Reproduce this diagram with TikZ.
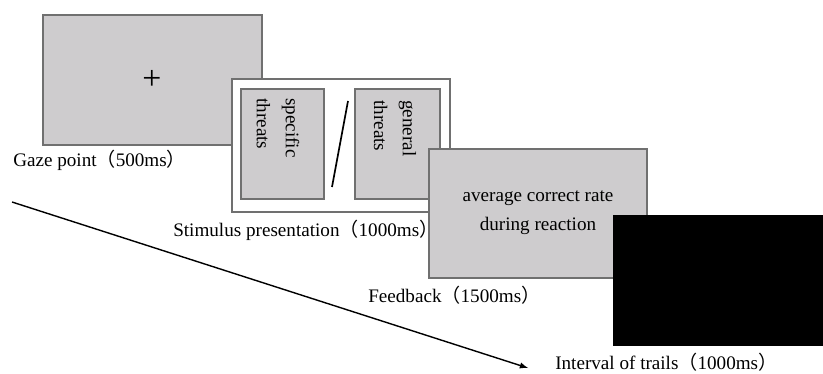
\documentclass[tikz,border=0pt]{standalone}
\usepackage{fontspec}
\setmainfont{Liberation Serif}
\newfontfamily\cjk{Noto Sans CJK SC}
\usetikzlibrary{positioning, arrows}
\definecolor{screengray}{RGB}{206,204,206}
\definecolor{framegray}{RGB}{112,112,112}
\newcommand{\lpar}{{\cjk （}}
\newcommand{\rpar}{{\cjk ）}}

\begin{document}
\begin{tikzpicture}[x=0.025cm, y=-0.025cm, font=\fontsize{13.6}{20.5}\selectfont]
        \useasboundingbox (0,0) rectangle (823,374);

        % fixation screen
        \draw [draw=framegray, fill=screengray, line width=1pt] (43,15) rectangle (262,145);
        \node (cross) at (152,80) {\fontsize{24}{24}\selectfont +};
        \node (gaze) [anchor=west, inner sep=0pt] at (13,160) {Gaze point\lpar500ms\rpar};

        % stimulus screen
        \draw [draw=framegray, fill=white, line width=1pt] (232,79) rectangle (450,212);
        \draw [draw=framegray, fill=screengray, line width=1pt] (241,89) rectangle (324,199);
        \draw [draw=framegray, fill=screengray, line width=1pt] (355,89) rectangle (440,199);
        \node (spec) [rotate=-90, anchor=west, align=left, inner sep=0pt] at (278,98) {specific\\threats};
        \node (gen) [rotate=-90, anchor=west, align=left, inner sep=0pt] at (395,100) {general\\threats};
        \coordinate (s1) at (348,101);
        \coordinate (s2) at (332,187);
        \draw [line width=1.2pt] (s1) -- (s2);
        \node (stim) [anchor=west, inner sep=0pt] at (173,230) {Stimulus presentation\lpar1000ms\rpar};

        % feedback screen
        \draw [draw=framegray, fill=screengray, line width=1pt] (429,149) rectangle (647,278);
        \node (rate) [align=center] at (538,213) {average correct rate\\during reaction};
        \node (fb) [anchor=west, inner sep=0pt] at (368,295) {Feedback\lpar1500ms\rpar};

        % blank interval
        \fill [black] (613,215) rectangle (823,346);
        \node (iti) [anchor=west, inner sep=0pt] at (555,362) {Interval of trails\lpar1000ms\rpar};

        % time axis
        \coordinate (t0) at (12,202);
        \coordinate (t1) at (528,368);
        \draw [-latex, line width=1pt] (t0) -- (t1);
    \end{tikzpicture}
\end{document}
